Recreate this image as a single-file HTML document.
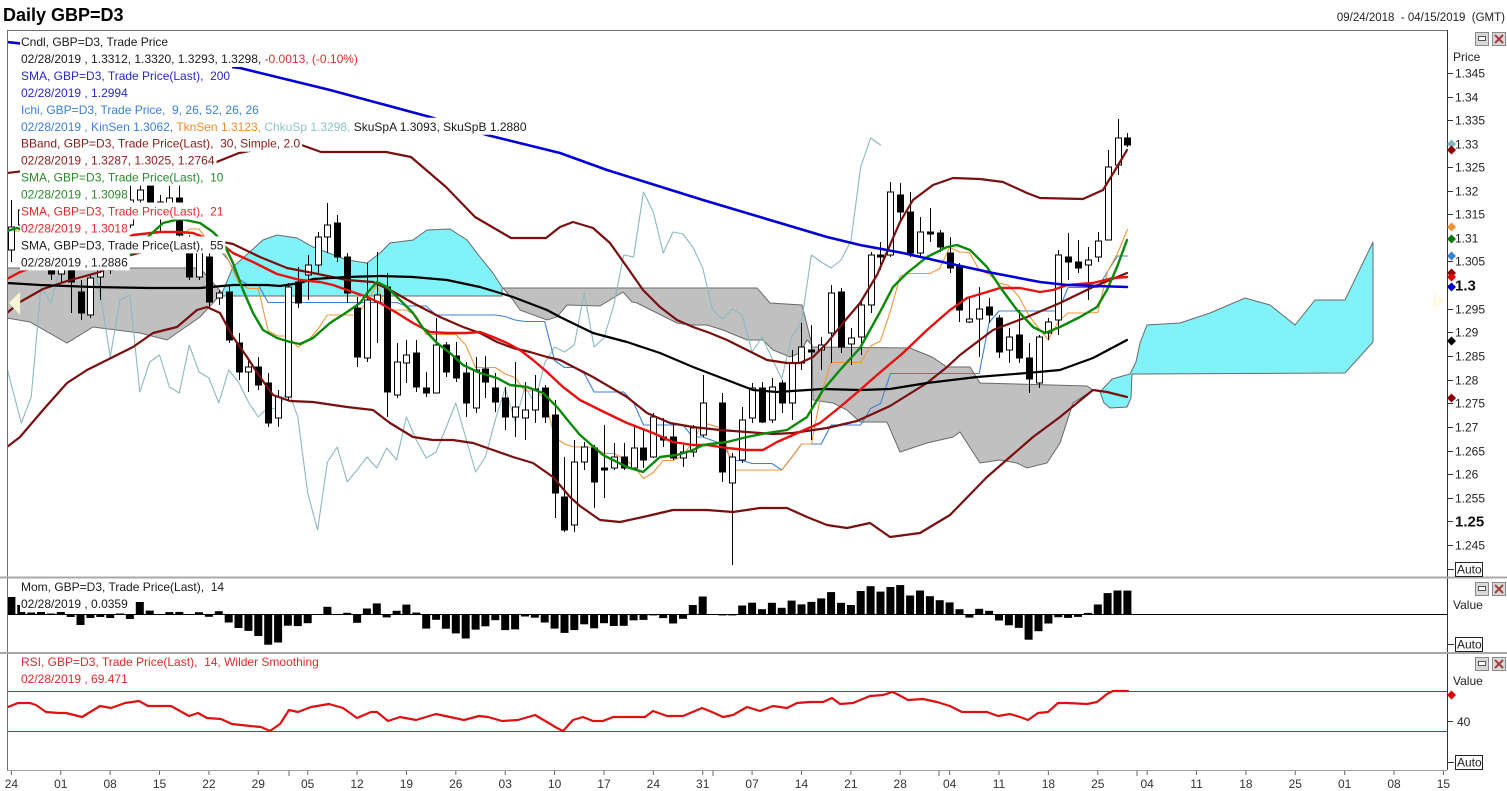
<!DOCTYPE html>
<html><head><meta charset="utf-8">
<style>
html,body{margin:0;padding:0;background:#fff;}
body{width:1507px;height:791px;overflow:hidden;position:relative;}
svg{position:absolute;left:0;top:0;}
text{font-family:"Liberation Sans",Arial,sans-serif;white-space:pre;}
</style></head><body>
<svg id="s" width="1507" height="791" viewBox="0 0 1507 791" xmlns="http://www.w3.org/2000/svg">
<defs>
<clipPath id="cm"><rect x="7.5" y="31" width="1439.5" height="546"/></clipPath>
<clipPath id="cmo"><rect x="7.5" y="579" width="1439.5" height="73"/></clipPath>
<clipPath id="cr"><rect x="7.5" y="655" width="1439.5" height="114"/></clipPath>
</defs>
<rect x="0" y="0" width="1507" height="791" fill="#fff"/>
<text x="3" y="21" font-size="18" font-weight="bold" fill="#000">Daily GBP=D3</text>
<text x="1505" y="21" font-size="11.5" fill="#222" text-anchor="end" style="white-space:pre">09/24/2018  - 04/15/2019  (GMT)</text>

<g clip-path="url(#cm)">
  <g id="cloud"></g>
  <g id="thin"></g>
  <g id="cand"></g>
  <g id="lines"></g>
  <polygon points="9,303 20,292 20,315" fill="#faf5d2" stroke="#e0dcc0" stroke-width="0.5"/>
  <polygon points="1445,301 1433,291 1433,311" fill="#fdfbe6"/>
  <g id="leg"></g>
</g>
<g clip-path="url(#cmo)">
  <line x1="7" y1="614.5" x2="1447" y2="614.5" stroke="#000" stroke-width="1"/>
  <g id="mom"></g>
  <g id="legm"></g>
</g>
<g clip-path="url(#cr)">
  <line x1="7" y1="691.5" x2="1447" y2="691.5" stroke="#e01818" stroke-width="1"/>
  <line x1="7" y1="731.5" x2="1447" y2="731.5" stroke="#e01818" stroke-width="1"/>
  <g id="rsi"></g>
  <g id="legr"></g>
</g>

<!-- frame -->
<line x1="7" y1="30.5" x2="1447" y2="30.5" stroke="#707070" stroke-width="1"/>
<line x1="7.5" y1="30" x2="7.5" y2="770" stroke="#707070" stroke-width="1"/>
<line x1="1447.5" y1="30" x2="1447.5" y2="770" stroke="#333" stroke-width="1"/>
<line x1="0" y1="577.5" x2="1507" y2="577.5" stroke="#a8a8a8" stroke-width="2"/>
<line x1="0" y1="653" x2="1507" y2="653" stroke="#a8a8a8" stroke-width="2"/>
<line x1="7" y1="770.5" x2="1447" y2="770.5" stroke="#a0a0a0" stroke-width="1"/>
<g id="axis"></g>
</svg>
<script>
const NS="http://www.w3.org/2000/svg";
function el(t,a,p){const e=document.createElementNS(NS,t);for(const k in a)e.setAttribute(k,a[k]);if(p)p.appendChild(e);return e;}
const G=id=>document.getElementById(id);
const X=i=>11.4+i*9.876;
function pl(pts,stroke,w,parent,op){el('polyline',{points:pts.map(p=>p[0].toFixed(1)+','+p[1].toFixed(1)).join(' '),fill:'none',stroke:stroke,'stroke-width':w,'stroke-linejoin':'round','stroke-linecap':'round','opacity':op||1},parent);}
function pg(pts,fill,parent){el('polygon',{points:pts.map(p=>p.join(',')).join(' '),fill:fill,stroke:'#6a6a6a','stroke-width':1},parent);}

const cd=[
[250,200,262,227],[225,205,232,210],[210,200,222,212],[212,208,255,250],[250,245,280,274],
[274,258,282,266],[268,262,313,282],[292,280,320,313],[315,275,318,278],[277,262,300,270],
[270,238,274,244],[244,220,250,225],[225,185,228,200],[200,180,210,190],[185,178,205,202],
[202,195,232,215],[215,186,218,198],[198,185,238,235],[240,235,280,277],[277,245,280,253],
[257,245,307,302],[298,290,305,293],[292,285,343,340],[343,333,380,372],[372,360,392,367],
[367,357,390,385],[383,373,427,423],[418,390,427,397],[397,283,400,287],[282,267,308,303],
[275,255,300,265],[265,232,273,237],[237,203,253,225],[223,215,262,257],[257,253,303,293],
[308,297,367,357],[358,263,362,300],[302,252,343,295],[287,273,417,392],[395,343,398,362],
[363,340,383,355],[353,340,392,387],[388,372,397,393],[393,318,393,345],[345,342,377,372],
[356,342,382,378],[373,362,417,403],[408,357,413,370],[369,356,398,382],[388,373,412,402],
[398,387,430,417],[417,362,437,407],[418,382,440,410],[410,375,423,389],[388,385,423,417],
[415,400,518,493],[497,457,532,530],[525,440,532,462],[462,442,470,447],[448,445,508,482],
[468,425,498,470],[468,443,470,457],[457,443,470,468],[468,427,470,448],[448,430,468,460],
[457,413,458,417],[437,418,447,440],[437,425,460,458],[458,445,467,452],[452,425,457,428],
[435,375,437,403],null,[403,393,482,472],[483,453,565,457],[460,407,463,420],
[418,383,423,388],[388,382,423,422],[420,378,423,387],[383,380,413,403],[403,350,420,363],
[363,323,370,347],[350,325,440,352],[350,337,370,345],[333,285,363,293],[292,288,353,347],
[344,328,365,338],[337,300,355,305],[305,252,313,255],[255,242,270,257],[255,182,257,192],
[195,183,220,212],[212,192,257,253],[253,217,258,232],[232,208,242,234],[233,230,252,247],
[253,237,273,268],[267,263,322,310],[322,297,323,319],[319,287,357,309],[307,298,323,315],
[318,315,358,352],[350,328,363,337],[335,310,363,358],[358,343,393,379],[383,335,388,337],
[333,318,340,322],[320,250,335,255],[257,233,280,262],[262,240,273,268],[265,247,300,260],
[257,232,262,241],[240,150,240,167],[165,119,175,138],[138,133,147,145]];

const cl=G('cloud');
const GREY='#c0c0c0', CY='#80f2f8';
pg([[7,268],[200,268],[222,293],[200,317],[167,340],[140,333],[93,327],[67,343],[30,322],[7,318]],GREY,cl);
pg([[222,293],[233,267],[263,240],[277,235],[297,238],[313,247],[347,260],[367,263],[380,253],[390,243],[413,240],[427,230],[450,229],[467,240],[480,257],[493,273],[502,287],[502,296],[222,296]],CY,cl);
pg([[503,288],[757,288],[770,303],[802,305],[812,345],[807,340],[800,353],[790,357],[773,350],[763,340],[747,340],[723,330],[707,325],[690,325],[677,323],[637,303],[632,302],[623,292],[600,306],[567,305],[557,317],[547,320],[520,310],[513,300]],GREY,cl);
pg([[812,347],[910,348],[932,357],[947,367],[970,367],[980,383],[1087,386],[1093,390],[1073,403],[1060,443],[1047,463],[1027,468],[1017,463],[1000,460],[980,463],[960,432],[953,437],[927,443],[900,452],[887,422],[860,422],[847,410],[833,403],[813,400]],GREY,cl);
pg([[1100,392],[1112,379],[1130,374],[1136,362],[1140,343],[1147,325],[1180,323],[1195,318],[1210,313],[1245,298],[1270,305],[1295,325],[1315,300],[1345,300],[1373,242],[1373,342],[1345,373],[1132,374],[1131,398],[1127,407],[1110,408],[1104,403]],CY,cl);

const th=G('thin');
let chk=[];
for(let s=0;s+25<cd.length;s++){const c=cd[s+25];if(c)chk.push([X(s),c[3]]);}
chk.unshift([7,368]);
pl(chk,'#8ab9c1',1.1,th);
function ichi(n){let pts=[];let data=[];for(let s=0;s<cd.length;s++){if(!cd[s])continue;data.push(cd[s]);const w=data.slice(-n);const hi=Math.min(...w.map(d=>d[1]));const lo=Math.max(...w.map(d=>d[2]));pts.push([X(s),(hi+lo)/2]);}return pts;}
pl(ichi(26),'#3d80d6',1.1,th);
pl(ichi(9),'#f0963a',1.1,th);

const cg=G('cand');
for(let s=0;s<cd.length;s++){const c=cd[s];if(!c)continue;const x=Math.round(X(s))+0.5;
 el('line',{x1:x,y1:c[1],x2:x,y2:c[2],stroke:'#000','stroke-width':1},cg);
 const top=Math.min(c[0],c[3]),bot=Math.max(c[0],c[3]);const up=c[3]<c[0];
 el('rect',{x:x-3,y:top,width:6,height:Math.max(1,bot-top),fill:up?'#fff':'#000',stroke:'#000','stroke-width':1},cg);}

const lg=G('lines');
const BBU=[[7,173],[50,168],[100,168],[150,170],[200,168],[214,163],[239,153],[270,147],[296,143],[321,152],[386,152],[411,157],[446,187],[475,217],[511,238],[546,238],[560,227],[573,222],[593,228],[610,243],[627,267],[643,290],[660,307],[677,320],[693,327],[710,333],[727,340],[747,350],[767,360],[787,363],[800,363],[813,357],[827,343],[843,323],[860,303],[877,275],[890,245],[900,222],[913,200],[933,185],[953,178],[980,179],[1003,182],[1027,193],[1040,198],[1083,199],[1103,190],[1117,167],[1127,150]];
const BBM=[[7,313],[20,302],[43,289],[67,281],[100,272],[127,256],[150,250],[190,244],[223,242],[233,244],[260,257],[287,268],[313,273],[347,280],[373,282],[390,290],[413,303],[440,317],[463,327],[480,333],[497,342],[513,348],[530,352],[547,357],[560,360],[593,377],[627,397],[647,413],[670,423],[693,427],[720,430],[747,432],[773,434],[793,433],[827,428],[857,421],[890,406],[927,383],[947,367],[960,355],[993,330],[1027,317],[1060,303],[1093,287],[1127,273]];
const BBL=[[7,447],[20,437],[43,410],[67,383],[87,370],[113,357],[133,347],[153,333],[177,327],[197,310],[207,307],[220,313],[233,337],[247,357],[260,377],[273,395],[290,401],[313,402],[347,407],[373,410],[390,423],[413,437],[433,440],[453,440],[473,443],[493,450],[513,457],[533,463],[553,477],[570,497],[580,506],[600,520],[620,522],[643,517],[673,510],[707,510],[733,512],[760,508],[787,508],[807,517],[827,525],[847,528],[870,523],[890,537],[920,533],[950,515],[987,477],[1010,457],[1033,437],[1060,417],[1077,403],[1093,390],[1107,392],[1127,397]];
const S55=[[7,283],[40,285],[93,287],[150,288],[200,288],[233,285],[267,285],[280,286],[300,283],[313,279],[347,277],[380,276],[413,277],[447,280],[480,287],[513,297],[547,310],[560,317],[593,333],[627,342],[660,353],[693,367],[727,380],[753,390],[777,392],[823,389],[860,390],[890,389],[927,383],[977,377],[1027,373],[1060,370],[1093,358],[1127,340]];
const S21=[[7,279],[20,272],[60,258],[100,245],[133,235],[160,232],[180,232],[193,233],[223,245],[233,253],[253,262],[277,274],[300,280],[320,282],[333,285],[347,290],[367,297],[380,303],[397,313],[413,323],[430,332],[447,333],[467,333],[480,332],[493,337],[507,343],[520,350],[533,360],[547,372],[563,387],[580,400],[600,410],[627,423],[653,433],[673,442],[693,445],[707,445],[727,448],[747,450],[763,450],[777,442],[793,435],[820,423],[840,407],[860,390],[877,375],[903,353],[927,330],[950,310],[967,298],[987,292],[1000,288],[1020,288],[1040,292],[1053,290],[1067,285],[1093,283],[1113,278],[1127,277]];
const S10=[[7,231],[17,228],[30,232],[50,240],[70,250],[90,262],[110,262],[130,255],[150,235],[163,223],[180,219],[200,223],[213,232],[223,242],[233,263],[243,290],[253,313],[263,330],[277,338],[290,342],[300,344],[313,338],[330,323],[347,312],[360,303],[368,292],[377,282],[387,287],[400,300],[413,313],[423,328],[437,343],[450,353],[463,365],[480,373],[497,378],[510,385],[527,387],[543,393],[557,407],[570,423],[580,435],[603,455],[627,467],[643,472],[660,457],[677,455],[693,450],[703,445],[727,442],[747,437],[767,433],[787,430],[807,417],[823,390],[840,370],[860,348],[880,312],[893,287],[907,273],[927,257],[947,247],[957,245],[970,250],[987,267],[1000,287],[1017,310],[1033,327],[1045,333],[1060,327],[1080,317],[1097,307],[1107,290],[1117,267],[1127,240]];
const S200=[[7,42],[240,68],[330,90],[430,117],[487,135],[560,153],[607,170],[703,200],[760,217],[827,237],[860,245],[903,253],[947,263],[993,273],[1040,282],[1067,285],[1127,287]];
const DR='#7a0f0f';
pl(BBU,DR,2.2,lg);pl(BBM,DR,2.2,lg);pl(BBL,DR,2.2,lg);
pl(S55,'#000',2.2,lg);pl(S21,'#e81010',2.4,lg);pl(S10,'#0a8a0a',2.4,lg);pl(S200,'#0000d8',2.6,lg);

function legend(parent,x0,base,rows){rows.forEach((r,k)=>{const by=base+16.95*k;const t=el('text',{x:x0,y:by,'font-size':12,style:'white-space:pre'},null);r.forEach(sp=>{const ts=el('tspan',{fill:sp[1]},t);ts.textContent=sp[0];});parent.appendChild(t);let w=0;try{w=t.getComputedTextLength();}catch(e){w=r.reduce((a,b)=>a+b[0].length*6.1,0);}const rc=el('rect',{x:x0-1,y:by-13,width:w+3,height:17,fill:'#fff'},null);parent.insertBefore(rc,t);});}
const BK='#1a1a1a',BL='#2828c8',IB='#3a7fd6',OR='#ef8a2a',TL='#8cc3cb',DRT='#8b1a1a',GR='#2a8a2a',RD='#e02a2a';
legend(G('leg'),21,46,[
[['Cndl, GBP=D3, Trade Price',BK]],
[['02/28/2019 , 1.3312, 1.3320, 1.3293, 1.3298, ',BK],['-0.0013, (-0.10%)',RD]],
[['SMA, GBP=D3, Trade Price(Last),  200',BL]],
[['02/28/2019 , 1.2994',BL]],
[['Ichi, GBP=D3, Trade Price,  9, 26, 52, 26, 26',IB]],
[['02/28/2019 , KinSen 1.3062, ',IB],['TknSen 1.3123, ',OR],['ChkuSp 1.3298, ',TL],['SkuSpA 1.3093, SkuSpB 1.2880',BK]],
[['BBand, GBP=D3, Trade Price(Last),  30, Simple, 2.0',DRT]],
[['02/28/2019 , 1.3287, 1.3025, 1.2764',DRT]],
[['SMA, GBP=D3, Trade Price(Last),  10',GR]],
[['02/28/2019 , 1.3098',GR]],
[['SMA, GBP=D3, Trade Price(Last),  21',RD]],
[['02/28/2019 , 1.3018',RD]],
[['SMA, GBP=D3, Trade Price(Last),  55',BK]],
[['02/28/2019 , 1.2886',BK]]]);

const mg=G('mom');
const early=[17,9,1.5,2,0.5,2,-3,-11,-4,-3,-4,0.5,-5,12];
let data=[];for(let s=0;s<cd.length;s++){if(cd[s])data.push({s:s,c:cd[s][3]});}
data.forEach((d,k)=>{let m;if(k<14)m=early[k];else m=0.1377*(data[k-14].c-d.c);
 const x=X(d.s);const y0=614,y1=614-m;el('rect',{x:(x-4).toFixed(1),y:Math.min(y0,y1).toFixed(1),width:8,height:Math.max(1,Math.abs(m)).toFixed(1),fill:'#000'},mg);});
legend(G('legm'),21,591,[[['Mom, GBP=D3, Trade Price(Last),  14',BK]],[['02/28/2019 , 0.0359',BK]]]);

const RSI=[[8,707],[18,703],[30,703],[36,705],[46,712],[59,713],[66,713],[82,717],[100,706],[111,708],[125,703],[139,701],[148,706],[171,706],[189,716],[198,713],[207,718],[221,719],[232,724],[250,726],[261,727],[270,731],[280,724],[289,710],[298,712],[311,707],[329,704],[343,708],[357,718],[371,712],[377,712],[388,721],[400,717],[416,720],[436,714],[450,717],[464,720],[479,716],[488,717],[502,721],[518,720],[535,715],[547,722],[557,728],[563,731],[573,720],[583,717],[593,721],[603,721],[613,717],[630,717],[645,717],[653,711],[667,716],[683,716],[702,708],[712,712],[723,717],[733,715],[747,707],[760,711],[773,706],[787,708],[797,703],[810,702],[823,702],[832,698],[840,704],[853,703],[870,696],[883,695],[892,692],[897,694],[908,700],[923,699],[937,702],[950,706],[962,712],[987,712],[998,716],[1010,714],[1020,717],[1028,720],[1038,713],[1048,712],[1058,703],[1067,703],[1087,704],[1097,702],[1107,694],[1113,691],[1128,691]];
pl(RSI,'#e01010',2.2,G('rsi'));
legend(G('legr'),21,666,[[['RSI, GBP=D3, Trade Price(Last),  14, Wilder Smoothing',RD]],[['02/28/2019 , 69.471',RD]]]);

const ax=G('axis');
function tx(x,y,s,size,opts){const t=el('text',Object.assign({x:x,y:y,'font-size':size,fill:'#222'},opts||{}),ax);t.textContent=s;return t;}
const prices=[['1.345',73],['1.34',97],['1.335',120],['1.33',144],['1.325',167],['1.32',191],['1.315',214],['1.31',238],['1.305',261],['1.3',285,1],['1.295',309],['1.29',332],['1.285',356],['1.28',380],['1.275',403],['1.27',427],['1.265',451],['1.26',474],['1.255',498],['1.25',521,1],['1.245',545]];
prices.forEach(p=>{el('line',{x1:1447,y1:p[1]+0.5,x2:1453,y2:p[1]+0.5,stroke:'#333','stroke-width':1},ax);
 if(p[2])tx(1455,p[1]+5.5,p[0],15,{'font-weight':'bold',fill:'#111'});else tx(1455,p[1]+4.5,p[0],12);});
tx(1453,61,'Price',12);tx(1453,609,'Value',12);tx(1453,685,'Value',12);
el('line',{x1:1447,y1:721.5,x2:1453,y2:721.5,stroke:'#333'},ax);tx(1457,726,'40',12);
function auto(y){el('line',{x1:1447,y1:y+7.5,x2:1454,y2:y+7.5,stroke:'#333'},ax);el('rect',{x:1455.5,y:y+0.5,width:27,height:14,fill:'#fff',stroke:'#222','stroke-width':1},ax);tx(1457,y+11.5,'Auto',12);}
auto(562);auto(637);auto(755);
function icons(y){el('rect',{x:1475.5,y:y+0.5,width:13,height:13,fill:'#d8d8d8',stroke:'#8a8a8a'},ax);el('rect',{x:1478.5,y:y+4.5,width:7,height:4,fill:'#fff',stroke:'#555'},ax);
 el('rect',{x:1492.5,y:y+0.5,width:13,height:13,fill:'#d8d8d8',stroke:'#8a8a8a'},ax);
 el('path',{d:`M${1495},${y+3} L${1503},${y+11} M${1503},${y+3} L${1495},${y+11}`,stroke:'#a04040','stroke-width':2},ax);}
icons(32);icons(582);icons(657);
function dia(y,c){el('polygon',{points:`1447,${y} 1451.5,${y-4.5} 1456,${y} 1451.5,${y+4.5}`,fill:c},ax);}
dia(144,'#7fb8c0');dia(150,'#8b0000');dia(227,'#f09030');dia(239,'#0a7a0a');dia(256,'#3c7fd4');dia(273,'#8b0000');dia(277,'#e00000');dia(287,'#0000d0');dia(341,'#000');dia(398,'#8b0000');dia(695,'#e00000');
const xl=['24','01','08','15','22','29','05','12','19','26','03','10','17','24','31','07','14','21','28','04','11','18','25','04','11','18','25','01','08','15'];
xl.forEach((l,k)=>{const x=11.4+k*49.38;el('line',{x1:x,y1:771,x2:x,y2:775,stroke:'#666'},ax);tx(x,788,l,12,{'text-anchor':'middle',fill:'#333'});});
[289,713,939,1137].forEach(x=>el('line',{x1:x,y1:771,x2:x,y2:776,stroke:'#666'},ax));
</script>
</body></html>
